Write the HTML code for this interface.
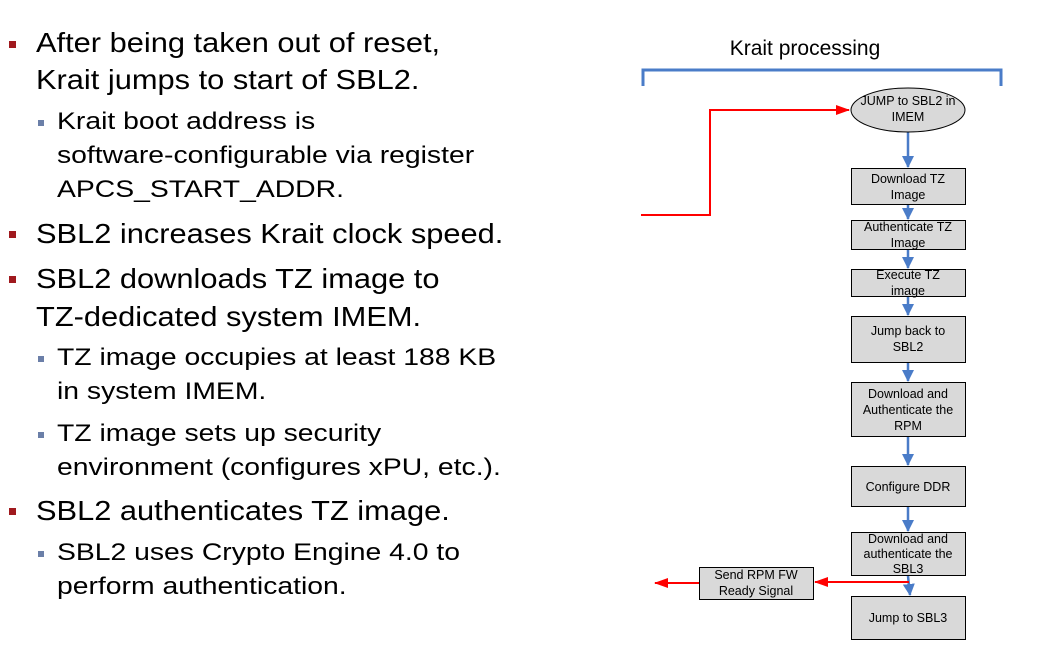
<!DOCTYPE html>
<html><head><meta charset="utf-8"><style>
body{margin:0;width:1046px;height:658px;background:#fff;position:relative;overflow:hidden;font-family:"Liberation Sans",Arial,sans-serif;color:#000}
.l{position:absolute;white-space:nowrap;height:36px;line-height:36px;transform-origin:0 50%}
.m{font-size:28px;left:36px;transform:scaleX(1.1)}
.s{font-size:24px;left:57px;transform:scaleX(1.18)}
.b{position:absolute;width:7px;height:7px;background:#a0191e}
.sb{position:absolute;width:6px;height:6px;background:#6b7fa8}
</style></head><body>
<div class="l m" style="top:25px">After being taken out of reset,</div>
<div class="l m" style="top:62px">Krait jumps to start of SBL2.</div>
<div class="l s" style="top:104px">Krait boot address is</div>
<div class="l s" style="top:138px">software-configurable via register</div>
<div class="l s" style="top:172px">APCS_START_ADDR.</div>
<div class="l m" style="top:216px">SBL2 increases Krait clock speed.</div>
<div class="l m" style="top:261px">SBL2 downloads TZ image to</div>
<div class="l m" style="top:299px">TZ-dedicated system IMEM.</div>
<div class="l s" style="top:340px">TZ image occupies at least 188 KB</div>
<div class="l s" style="top:374px">in system IMEM.</div>
<div class="l s" style="top:416px">TZ image sets up security</div>
<div class="l s" style="top:450px">environment (configures xPU, etc.).</div>
<div class="l m" style="top:493px">SBL2 authenticates TZ image.</div>
<div class="l s" style="top:535px">SBL2 uses Crypto Engine 4.0 to</div>
<div class="l s" style="top:569px">perform authentication.</div>
<div class="b" style="left:9px;top:41px"></div>
<div class="b" style="left:9px;top:231px"></div>
<div class="b" style="left:9px;top:276px"></div>
<div class="b" style="left:9px;top:508px"></div>
<div class="sb" style="left:38px;top:120px"></div>
<div class="sb" style="left:38px;top:356px"></div>
<div class="sb" style="left:38px;top:432px"></div>
<div class="sb" style="left:38px;top:551px"></div>

<svg width="1046" height="658" style="position:absolute;left:0;top:0" font-family="Liberation Sans,Arial,sans-serif" font-size="12.5" text-anchor="middle">
<defs>
<marker id="ab" markerWidth="12" markerHeight="12" refX="11" refY="6" orient="auto" markerUnits="userSpaceOnUse"><path d="M0,0L12,6L0,12z" fill="#4a7cc8"/></marker>
<marker id="ar" markerWidth="14" markerHeight="10" refX="13" refY="5" orient="auto" markerUnits="userSpaceOnUse"><path d="M0,0L14,5L0,10z" fill="#f00"/></marker>
</defs>
<text x="805" y="55" font-size="21">Krait processing</text>
<path d="M643,86V70H1001V86" fill="none" stroke="#4a7cc8" stroke-width="3"/>
<g stroke="#4a7cc8" stroke-width="2.5" marker-end="url(#ab)">
<line x1="908" y1="132" x2="908" y2="167"/>
<line x1="908" y1="205" x2="908" y2="219"/>
<line x1="908" y1="250" x2="908" y2="268"/>
<line x1="908" y1="297" x2="908" y2="315"/>
<line x1="908" y1="363" x2="908" y2="381"/>
<line x1="908" y1="437" x2="908" y2="465"/>
<line x1="908" y1="507" x2="908" y2="531"/>
<line x1="908" y1="576" x2="910" y2="595"/>
</g>
<path d="M641,215H710V110H849" fill="none" stroke="#f00" stroke-width="2" marker-end="url(#ar)"/>
<path d="M909,582H815" fill="none" stroke="#f00" stroke-width="2" marker-end="url(#ar)"/>
<path d="M699,583H655" fill="none" stroke="#f00" stroke-width="2" marker-end="url(#ar)"/>
<g fill="#d9d9d9" stroke="#000" stroke-width="1">
<ellipse cx="908" cy="110" rx="57" ry="22"/>
<rect x="851.5" y="168.5" width="114" height="36"/>
<rect x="851.5" y="220.5" width="114" height="29"/>
<rect x="851.5" y="269.5" width="114" height="27"/>
<rect x="851.5" y="316.5" width="114" height="46"/>
<rect x="851.5" y="382.5" width="114" height="54"/>
<rect x="851.5" y="466.5" width="114" height="40"/>
<rect x="851.5" y="532.5" width="114" height="43"/>
<rect x="851.5" y="596.5" width="114" height="43"/>
<rect x="699.5" y="567.5" width="114" height="32"/>
</g>
<text x="908" y="105">JUMP to SBL2 in</text><text x="908" y="121">IMEM</text>
<text x="908" y="183">Download TZ</text><text x="908" y="199">Image</text>
<text x="908" y="231">Authenticate TZ</text><text x="908" y="247">Image</text>
<text x="908" y="279">Execute TZ</text><text x="908" y="295">image</text>
<text x="908" y="335">Jump back to</text><text x="908" y="351">SBL2</text>
<text x="908" y="398">Download and</text><text x="908" y="414">Authenticate the</text><text x="908" y="430">RPM</text>
<text x="908" y="491">Configure DDR</text>
<text x="908" y="543">Download and</text><text x="908" y="558">authenticate the</text><text x="908" y="573">SBL3</text>
<text x="908" y="622">Jump to SBL3</text>
<text x="756" y="579">Send RPM FW</text><text x="756" y="595">Ready Signal</text>
</svg>
</body></html>
